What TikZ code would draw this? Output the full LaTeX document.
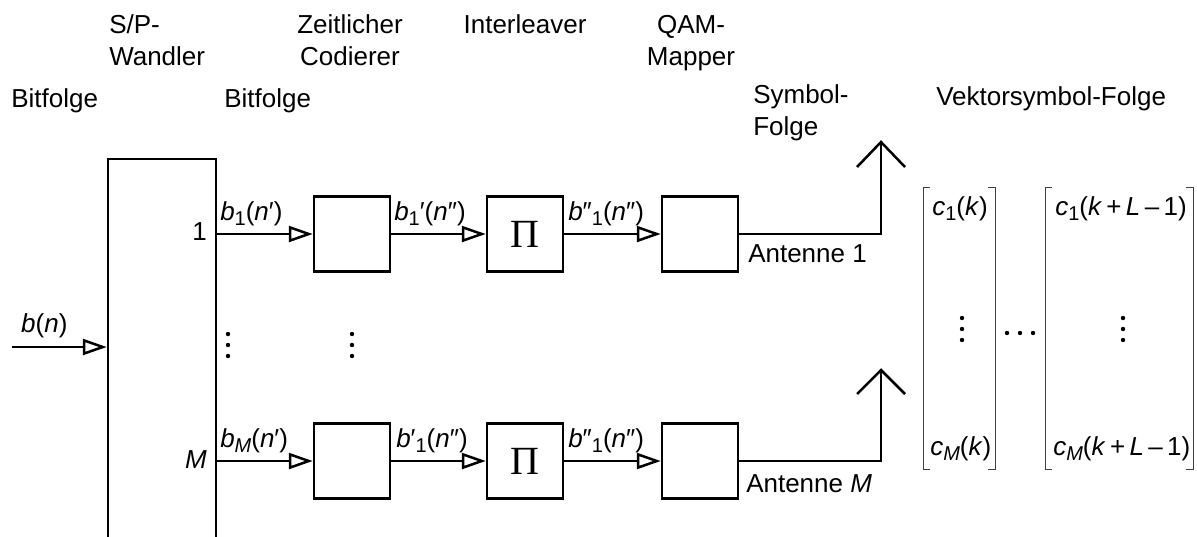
\documentclass[tikz,border=0pt]{standalone}
\usepackage{fontspec}
\setmainfont{Liberation Sans}
\newfontfamily\pifont{Liberation Serif}
\usetikzlibrary{arrows.meta}

\newcommand*{\yone}{234}
\newcommand*{\yM}{461}
\newcommand*{\sub}[1]{\raisebox{-0.4ex}{\fontsize{10}{12}\selectfont #1}}

\begin{document}
\begin{tikzpicture}
[
	x=0.5pt, y=-0.5pt,
	font=\fontsize{13}{16}\selectfont,
	line width=1.25pt,
	>={Triangle[open,length=12pt,width=8pt]},
	block/.style={draw,minimum width=38pt,minimum height=37.5pt,inner sep=0pt},
	pibox/.style={block,font=\pifont\fontsize{20}{22}\selectfont},
	lbl/.style={inner sep=0pt,anchor=base west},
	title/.style={inner sep=0pt,anchor=base,align=center},
	bracket/.style={line width=0.5pt,black!75},
	dot/.style={circle,fill,inner sep=0pt,minimum size=2.2pt}
]

	\useasboundingbox (0,0) rectangle (1197,536);

	% titles
	\node[lbl,align=left] (spname) at (108,65) {S/P-\\Wandler};
	\node[title] (codname) at (350,65) {Zeitlicher\\Codierer};
	\node[title] (piname) at (525,33) {Interleaver};
	\node[title] (qamname) at (691,65) {QAM-\\Mapper};
	\node[lbl] (bits) at (10,107) {Bitfolge};
	\node[lbl] (bitsp) at (223,107) {Bitfolge};
	\node[lbl,align=left] (symname) at (752,135) {Symbol-\\Folge};
	\node[lbl] (vecname) at (935,105) {Vektorsymbol-Folge};

	% blocks
	\node[draw,minimum width=54pt,minimum height=193pt,inner sep=0pt] (sp) at (162,352) {};
	\node[block] (cod1) at (352,\yone) {};
	\node[pibox] (pi1) at (525,\yone) {Π};
	\node[block] (qam1) at (700,\yone) {};
	\node[block] (codM) at (352,\yM) {};
	\node[pibox] (piM) at (525,\yM) {Π};
	\node[block] (qamM) at (700,\yM) {};

	\node[inner sep=0pt,anchor=base east] (one) at (208,240) {1};
	\node[inner sep=0pt,anchor=base east] (em) at (208,468) {\textit{M}};

	% input
	\coordinate (bin) at (12,347);
	\draw[->] (bin) -- (sp.west |- bin);
	\node[lbl] (bn) at (20,332) {\textit{b}(\textit{n})};

	% branch 1
	\draw[->] (sp.east |- cod1) -- (cod1);
	\draw[->] (cod1) -- (pi1);
	\draw[->] (pi1) -- (qam1);
	\node[lbl] (sa1) at (219,220) {\textit{b}\sub{1}(\textit{n}′)};
	\node[lbl] (sb1) at (393,220) {\textit{b}\sub{1}′(\textit{n}″)};
	\node[lbl] (sc1) at (567,220) {\textit{b}″\sub{1}(\textit{n}″)};

	\coordinate (ant1) at (881,142);
	\draw (qam1) -| (ant1);
	\draw (ant1) ++(-24,25) -- (ant1) -- ++(24,25);
	\node[lbl] (antname1) at (747,262) {Antenne 1};

	% branch M
	\draw[->] (sp.east |- codM) -- (codM);
	\draw[->] (codM) -- (piM);
	\draw[->] (piM) -- (qamM);
	\node[lbl] (saM) at (219,447) {\textit{b}\sub{\textit{M}}(\textit{n}′)};
	\node[lbl] (sbM) at (395,447) {\textit{b}′\sub{1}(\textit{n}″)};
	\node[lbl] (scM) at (567,447) {\textit{b}″\sub{1}(\textit{n}″)};

	\coordinate (antM) at (881,370);
	\draw (qamM) -| (antM);
	\draw (antM) ++(-24,24) -- (antM) -- ++(24,24);
	\node[lbl] (antnameM) at (745,492) {Antenne \textit{M}};

	% vertical dots
	\foreach \y in {334,345,356} {
		\node[dot] at (228,\y) {};
		\node[dot] at (352,\y) {};
		\node[dot] at (962,\y-16) {};
		\node[dot] at (1123,\y-16) {};
	}
	\foreach \x in {1007,1020,1033}
		\node[dot] at (\x,333) {};

	% vectors
	\draw[bracket] (930,187) -- (923,187) -- (923,469) -- (930,469);
	\draw[bracket] (988,187) -- (995,187) -- (995,469) -- (988,469);
	\draw[bracket] (1052,187) -- (1045,187) -- (1045,469) -- (1052,469);
	\draw[bracket] (1186,187) -- (1193,187) -- (1193,469) -- (1186,469);
	\node[lbl] (c1k) at (931,215) {\textit{c}\sub{1}(\textit{k})};
	\node[lbl] (cMk) at (929,455) {\textit{c}\sub{\textit{M}}(\textit{k})};
	\node[lbl] (c1kl) at (1054,215) {\textit{c}\sub{1}(\textit{k}\,+\,\textit{L}\,–\,1)};
	\node[lbl] (cMkl) at (1052,455) {\textit{c}\sub{\textit{M}}(\textit{k}\,+\,\textit{L}\,–\,1)};

\end{tikzpicture}
\end{document}
